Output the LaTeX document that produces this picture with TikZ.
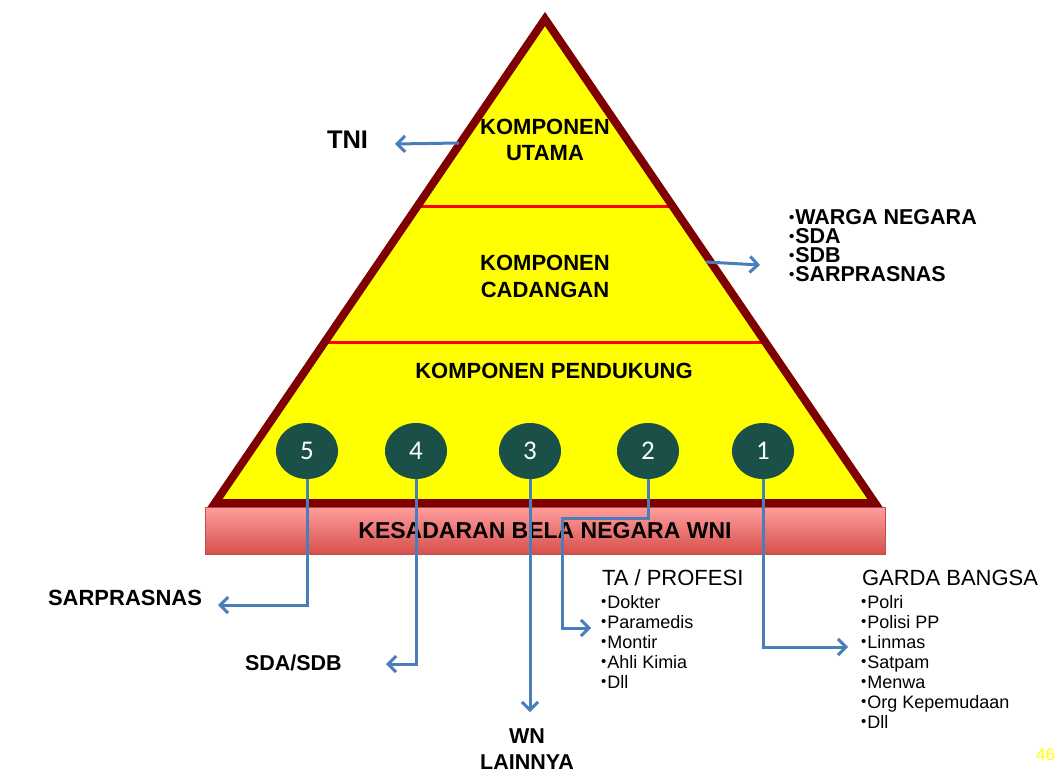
\documentclass[tikz,border=0pt]{standalone}
\usepackage{fontspec}
\setmainfont{Liberation Sans}
\newfontfamily\numfont{Carlito}
\usetikzlibrary{arrows.meta,shapes.geometric,calc}
\definecolor{pyrborder}{HTML}{7F0000}
\definecolor{pyrfill}{HTML}{FFFF00}
\definecolor{divline}{HTML}{FF0000}
\definecolor{circfill}{HTML}{1A5048}
\definecolor{connblue}{HTML}{4A7EBB}
\definecolor{bartop}{HTML}{FF9E9E}
\definecolor{barbot}{HTML}{D6504C}
\definecolor{barline}{HTML}{C0504D}
\definecolor{pagenum}{HTML}{FFFF00}
\newcommand\fs[1]{\fontsize{#1}{#1}\selectfont}
\newcommand\bul[1]{\raisebox{#1}{\fontsize{15}{15}\selectfont\textbullet}\kern1pt}
\begin{document}
\begin{tikzpicture}[x=1pt,y=-1pt,
  lbl/.style={inner sep=0pt, outer sep=0pt},
  bigbold/.style={lbl, font=\bfseries\fs{22}},
  conn/.style={draw=connblue, line width=3pt, -{Straight Barb[length=8pt,width=16pt]}},
  numc/.style={ellipse, fill=circfill, minimum width=62pt, minimum height=56pt, inner sep=0pt, text=white, font=\numfont\fs{27}},
  barnode/.style={rectangle, minimum width=680pt, minimum height=47pt, inner sep=0pt, top color=bartop, bottom color=barbot, draw=barline, line width=0.8pt, font=\bfseries\fs{23}},
  itemtxt/.style={lbl, anchor=base west, font=\fs{18}},
  headtxt/.style={lbl, anchor=base west, font=\fs{22}}]
\useasboundingbox (0,0) rectangle (1060,776);
% base bar
\node[barnode] (bar) at (545,530.5) {KESADARAN BELA NEGARA WNI};
% pyramid
\coordinate (apex) at (545,19);
\coordinate (bl) at (215,503);
\coordinate (br) at (875,503);
\fill[pyrfill] (apex) -- (bl) -- (br) -- cycle;
\draw[divline, line width=3pt] ($(apex)!0.3864!(bl)$) -- ($(apex)!0.3864!(br)$);
\draw[divline, line width=3pt] ($(apex)!0.6694!(bl)$) -- ($(apex)!0.6694!(br)$);
\draw[pyrborder, line width=8pt, line join=miter] (apex) -- (bl) -- (br) -- cycle;
% pyramid labels
\node[bigbold, anchor=base] (ku1) at (545,134) {KOMPONEN};
\node[bigbold, anchor=base] (ku2) at (545,160) {UTAMA};
\node[bigbold, anchor=base] (kc1) at (545,270) {KOMPONEN};
\node[bigbold, anchor=base] (kc2) at (545,297) {CADANGAN};
\node[bigbold, anchor=base] (kp) at (554,378) {KOMPONEN PENDUKUNG};
% circles
\node[numc] (c5) at (307,451) {5};
\node[numc] (c4) at (416,451) {4};
\node[numc] (c3) at (530,451) {3};
\node[numc] (c2) at (648,451) {2};
\node[numc] (c1) at (763,451) {1};
% outside labels
\node[lbl, anchor=base west, font=\bfseries\fs{25.5}] (tni) at (327,148) {TNI};
\node[lbl, anchor=north west, align=left, font=\bfseries\fontsize{21.5}{19}\selectfont] (rlist) at (789,209.6)
  {\bul{2.5pt}WARGA NEGARA\\\bul{2.5pt}SDA\\\bul{2.5pt}SDB\\\bul{2.5pt}SARPRASNAS};
\node[bigbold, anchor=base west] (sarp) at (48,605) {SARPRASNAS};
\node[bigbold, anchor=base west, font=\bfseries\fs{21.5}] (sdasdb) at (245,670) {SDA/SDB};
\node[bigbold, anchor=base, font=\bfseries\fs{21.5}] (wn1) at (527,743) {WN};
\node[bigbold, anchor=base, font=\bfseries\fs{21.5}] (wn2) at (527,769) {LAINNYA};
\node[headtxt] (tahead) at (602,585) {TA / PROFESI};
\foreach \t [count=\i] in {Dokter,Paramedis,Montir,Ahli Kimia,Dll}
  \node[itemtxt] (ta\i) at (601,{588+20*\i}) {\bul{1.2pt}\t};
\node[headtxt] (gbhead) at (862,585) {GARDA BANGSA};
\foreach \t [count=\i] in {Polri,Polisi PP,Linmas,Satpam,Menwa,Org Kepemudaan,Dll}
  \node[itemtxt] (gb\i) at (861,{588+20*\i}) {\bul{1.2pt}\t};
\node[lbl, anchor=base east, font=\fs{17}, text=pagenum] (pnum) at (1055,760) {46};
% connectors
\coordinate (tniS) at (459,143);
\coordinate (tniA) at (395,144);
\draw[conn] (tniS) -- (tniA);
\coordinate (sdS) at (706,262);
\coordinate (sdA) at (760,265);
\draw[conn] (sdS) -- (sdA);
\coordinate (a5) at (218,605);
\draw[conn] (c5.south) |- (a5);
\coordinate (a4) at (386,664);
\draw[conn] (c4.south) |- (a4);
\coordinate (a3) at (530,712);
\draw[conn] (c3.south) -- (a3);
\coordinate (b2) at (562,518);
\coordinate (a2) at (591,628);
\draw[conn] (c2.south) |- (b2) |- (a2);
\coordinate (a1) at (848,647);
\draw[conn] (c1.south) |- (a1);
\end{tikzpicture}
\end{document}
